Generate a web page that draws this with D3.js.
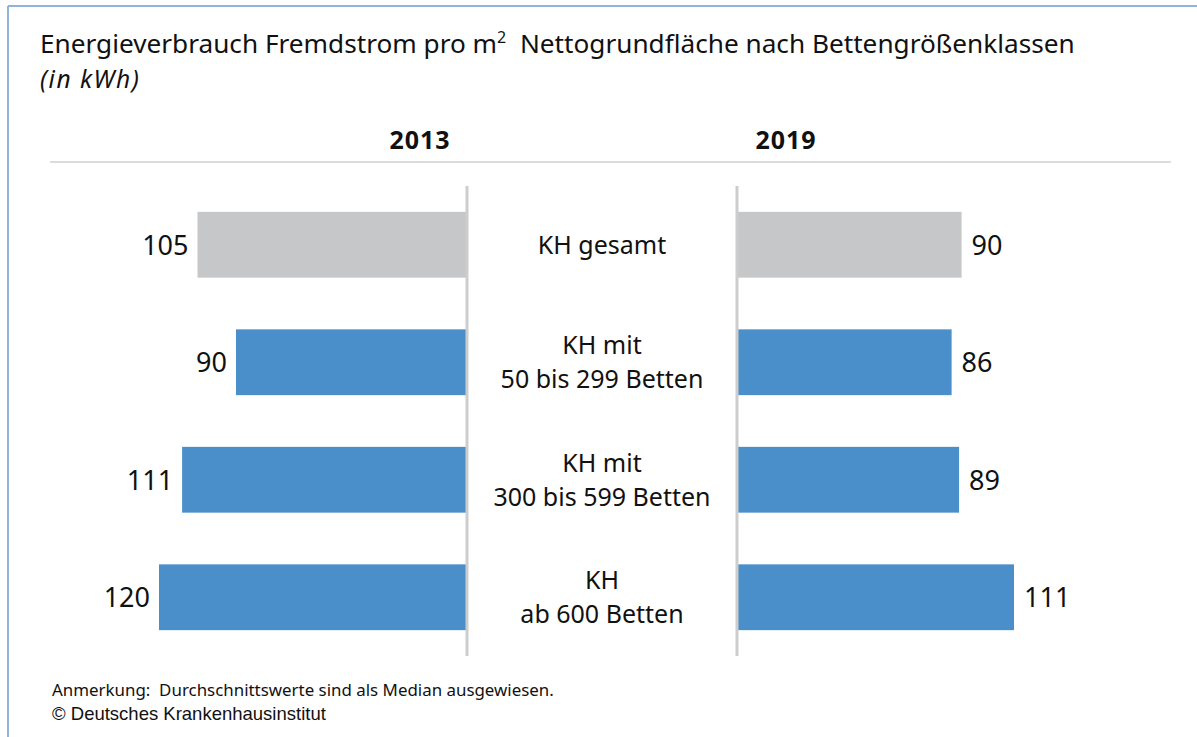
<!DOCTYPE html>
<html>
<head>
<meta charset="utf-8">
<script src="https://cdn.jsdelivr.net/npm/d3@7"></script>
<style>
  body { margin: 0; background: #fff; }
  svg { display: block; font-family: "Noto Sans", sans-serif; }
</style>
</head>
<body>
<svg id="chart" width="1197" height="737"></svg>
<script>
// data
var categories = [["KH gesamt"], ["KH mit", "50 bis 299 Betten"], ["KH mit", "300 bis 599 Betten"], ["KH", "ab 600 Betten"]];
var values2013 = [105, 90, 111, 120];
var values2019 = [90, 86, 89, 111];
var years = ["2013", "2019"];
var barColors = ["#c6c7c9", "#4a8fc9", "#4a8fc9", "#4a8fc9"];

var svg = d3.select("#chart");

// frame
svg.append("line").attr("x1", 8).attr("x2", 1197).attr("y1", 6).attr("y2", 6).style("stroke", "#8fb2de").style("stroke-width", 2);
svg.append("line").attr("x1", 8).attr("x2", 8).attr("y1", 6).attr("y2", 737).style("stroke", "#8fb2de").style("stroke-width", 2);

// title
var title = svg.append("text").attr("x", 40).attr("y", 53).style("font-size", "26.2px").style("fill", "#111");
title.append("tspan").text("Energieverbrauch Fremdstrom pro m");
title.append("tspan").attr("dy", -10).style("font-size", "16px").text("2");
title.append("tspan").attr("dy", 10).text("\u00a0 Nettogrundfläche nach Bettengrößenklassen");
svg.append("text").attr("x", 40).attr("y", 87.5).style("font-size", "24.5px").style("letter-spacing", "1.5px")
  .style("font-style", "italic").style("fill", "#111").text("(in kWh)");

// header
svg.append("line").attr("x1", 50).attr("x2", 1171).attr("y1", 162).attr("y2", 162).style("stroke", "#dcdcdc").style("stroke-width", 2);
svg.selectAll(".year").data(years).enter().append("text")
  .attr("x", function(d, i) { return i == 0 ? 420 : 786; })
  .attr("y", 149)
  .attr("text-anchor", "middle")
  .style("font-size", "25px").style("letter-spacing", "1px").style("font-weight", "bold").style("fill", "#111")
  .text(function(d) { return d; });

var y = d3.scaleBand().domain(d3.range(categories.length)).range([186, 656]).paddingInner(0.44).paddingOuter(0.22);
var xLeft = d3.scaleLinear().domain([0, 120]).range([467, 159]);
var xRight = d3.scaleLinear().domain([0, 111]).range([737, 1014]);

// bars 2013
svg.selectAll(".barL").data(values2013).enter().append("rect")
  .attr("x", function(d) { return xLeft(d); })
  .attr("y", function(d, i) { return y(i); })
  .attr("width", function(d) { return xLeft(0) - xLeft(d); })
  .attr("height", y.bandwidth())
  .style("fill", function(d, i) { return barColors[i]; });
svg.selectAll(".lblL").data(values2013).enter().append("text")
  .attr("x", function(d) { return xLeft(d) - 9; })
  .attr("y", function(d, i) { return y(i) + y.bandwidth() / 2 + 10; })
  .attr("text-anchor", "end")
  .style("font-size", "27px").style("fill", "#111")
  .text(function(d) { return d; });

// bars 2019
svg.selectAll(".barR").data(values2019).enter().append("rect")
  .attr("x", xRight(0))
  .attr("y", function(d, i) { return y(i); })
  .attr("width", function(d) { return xRight(d) - xRight(0); })
  .attr("height", y.bandwidth())
  .style("fill", function(d, i) { return barColors[i]; });
svg.selectAll(".lblR").data(values2019).enter().append("text")
  .attr("x", function(d) { return xRight(d) + 10; })
  .attr("y", function(d, i) { return y(i) + y.bandwidth() / 2 + 10; })
  .style("font-size", "27px").style("fill", "#111")
  .text(function(d) { return d; });

// axis lines
[467, 737].forEach(function(x) {
  svg.append("line").attr("x1", x).attr("x2", x).attr("y1", 186).attr("y2", 656).style("stroke", "#cdcdcd").style("stroke-width", 3);
});

// category labels
categories.forEach(function(lines, i) {
  var cy = y(i) + y.bandwidth() / 2;
  var t = svg.append("text").attr("text-anchor", "middle").style("font-size", "25px").style("fill", "#111");
  lines.forEach(function(s, j) {
    t.append("tspan").attr("x", 602).attr("y", cy + 9 + (j - (lines.length - 1) / 2) * 34).text(s);
  });
});

// footer
svg.append("text").attr("x", 52).attr("y", 696).style("font-size", "16.9px").style("fill", "#111")
  .text("Anmerkung:\u00a0 Durchschnittswerte sind als Median ausgewiesen.");
svg.append("text").attr("x", 52).attr("y", 720).style("font-size", "18.5px").style("font-family", "'Liberation Sans', Arial, sans-serif").style("fill", "#111")
  .text("© Deutsches Krankenhausinstitut");
</script>
</body>
</html>
